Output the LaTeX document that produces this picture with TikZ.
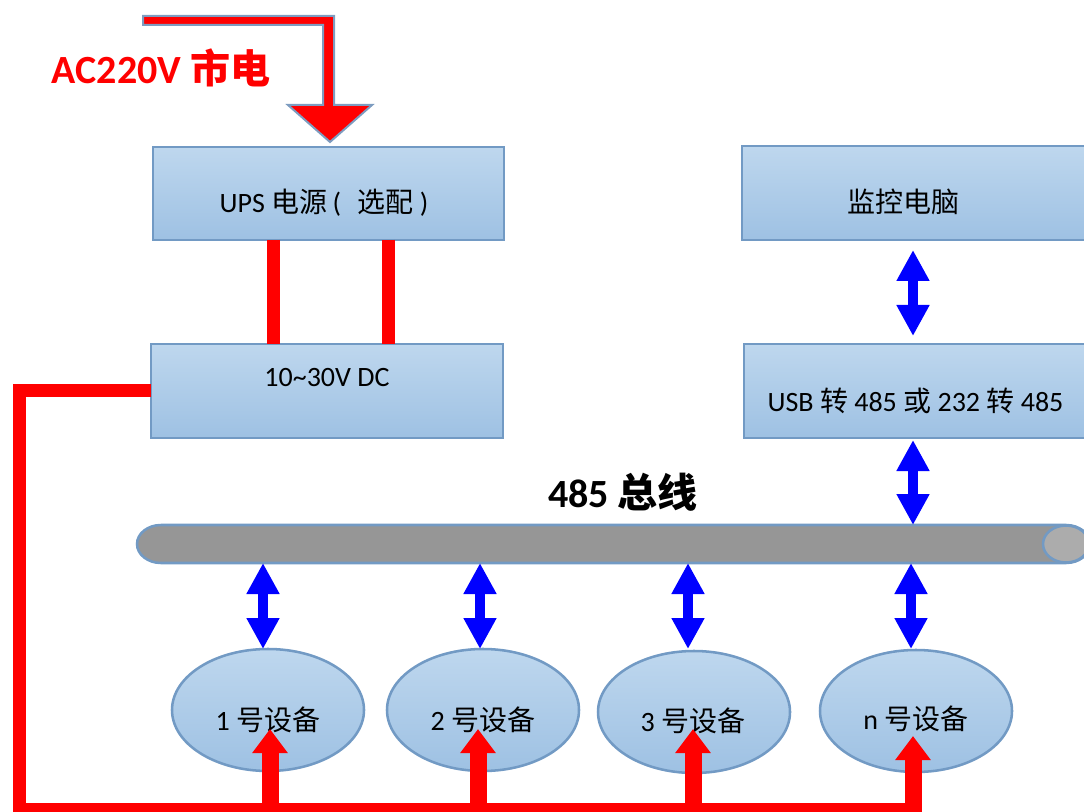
\documentclass[tikz,border=0pt]{standalone}
\usepackage{fontspec}
\setmainfont{Carlito}
\newfontfamily\cjk{Noto Sans CJK SC}
\usetikzlibrary{shapes.geometric,arrows.meta}
\definecolor{boxtop}{RGB}{190,215,238}
\definecolor{boxbot}{RGB}{158,193,227}
\definecolor{boxline}{RGB}{114,154,196}
\definecolor{busgray}{RGB}{150,150,150}
\definecolor{capgray}{RGB}{172,172,172}
\definecolor{acline}{RGB}{125,156,192}
\begin{document}
\begin{tikzpicture}[x=0.75pt,y=-0.75pt,
  box/.style={draw=boxline, line width=1.9pt, top color=boxtop, bottom color=boxbot, inner sep=0pt, outer sep=0pt},
  dev/.style={box, ellipse, minimum width=192*0.75pt, minimum height=122*0.75pt},
  lbl/.style={inner sep=0pt, font=\fontsize{21}{24}\selectfont},
  biglbl/.style={inner sep=0pt, font=\bfseries\fontsize{30}{34}\selectfont},
  redbar/.style={draw=red, line width=9.75pt, line join=miter},
  redarrow/.style={draw=red, line width=12.75pt, -{Triangle[width=25.5pt,length=18pt]}},
  bluearrow/.style={draw=blue, line width=7.5pt, {Triangle[width=23.25pt,length=23.25pt]}-{Triangle[width=23.25pt,length=23.25pt]}}
]
\useasboundingbox (0,0) rectangle (1084,812);

% AC input bent arrow
\draw[draw=acline, line width=1.5pt, fill=red, line join=miter]
  (143,16) -- (334,16) -- (334,105) -- (372,105) -- (330,142) -- (288,105) -- (323,105) -- (323,25) -- (143,25) -- cycle;
\node[biglbl, text=red] (ac) at (161,68) {AC220V {\cjk 市电}};

% boxes
\node[box, minimum width=351*0.75pt, minimum height=93*0.75pt] (ups) at (328.5,193.5) {};
\node[lbl] (upst) at (324,203) {UPS {\cjk 电源}\hspace{4pt}(\hspace{12pt}{\cjk 选配}\hspace{5pt})};
\node[box, minimum width=352*0.75pt, minimum height=94*0.75pt] (dc) at (327,391) {};
\node[lbl] (dct) at (327,378) {10\textasciitilde 30V DC};
\node[box, minimum width=348*0.75pt, minimum height=94*0.75pt] (pc) at (916,193) {};
\node[lbl] (pct) at (903,202) {\cjk 监控电脑};
\node[box, minimum width=346*0.75pt, minimum height=94*0.75pt] (usb) at (917,391) {};
\node[lbl] (usbt) at (915.5,401) {USB {\cjk 转} 485 {\cjk 或} 232 {\cjk 转} 485};

% red bars UPS -> DC
\coordinate (r1) at (273.5,0);
\coordinate (r2) at (388.5,0);
\draw[redbar] (ups.south -| r1) -- (dc.north -| r1);
\draw[redbar] (ups.south -| r2) -- (dc.north -| r2);

% bus
\draw[draw=boxline, line width=1.9pt, fill=busgray]
  (1066,525) -- (161,525) arc[start angle=270, end angle=90, x radius=24, y radius=19]
  -- (1066,563) arc[start angle=90, end angle=-90, x radius=24, y radius=19] -- cycle;
\draw[draw=boxline, line width=1.9pt, fill=capgray] (1066,544) ellipse [x radius=23, y radius=18.5];
\node[biglbl] (buslbl) at (623,492) {485 {\cjk 总线}};

% devices
\node[dev] (d1) at (268,710) {};
\node[dev] (d2) at (483,710) {};
\node[dev] (d3) at (694,712) {};
\node[dev] (dn) at (916,711) {};
\node[lbl] (d1t) at (268,720) {1 {\cjk 号设备}};
\node[lbl] (d2t) at (483,720) {2 {\cjk 号设备}};
\node[lbl] (d3t) at (693,721) {3 {\cjk 号设备}};
\node[lbl] (dnt) at (916,719) {n {\cjk 号设备}};

% blue double arrows
\coordinate (bpa) at (913,250); \coordinate (bpb) at (913,336);
\draw[bluearrow] (bpa) -- (bpb);
\coordinate (bua) at (913,440); \coordinate (bub) at (913,525);
\draw[bluearrow] (bua) -- (bub);
\foreach \i/\x in {1/263,2/480,3/688,n/911}{
  \coordinate (bt\i) at (\x,563);
  \coordinate (bb\i) at (\x,649);
  \draw[bluearrow] (bt\i) -- (bb\i);
}

% red feed
\coordinate (fl) at (19,809);
\coordinate (fr) at (921.5,809);
\draw[redbar] (dc.west) -| (fl) -- (fr);
\foreach \i/\x/\t in {1/270/729,2/478/729,3/693/729,n/913/736}{
  \coordinate (rb\i) at (\x,815);
  \coordinate (rt\i) at (\x,\t);
  \draw[redarrow] (rb\i) -- (rt\i);
}
\end{tikzpicture}
\end{document}
